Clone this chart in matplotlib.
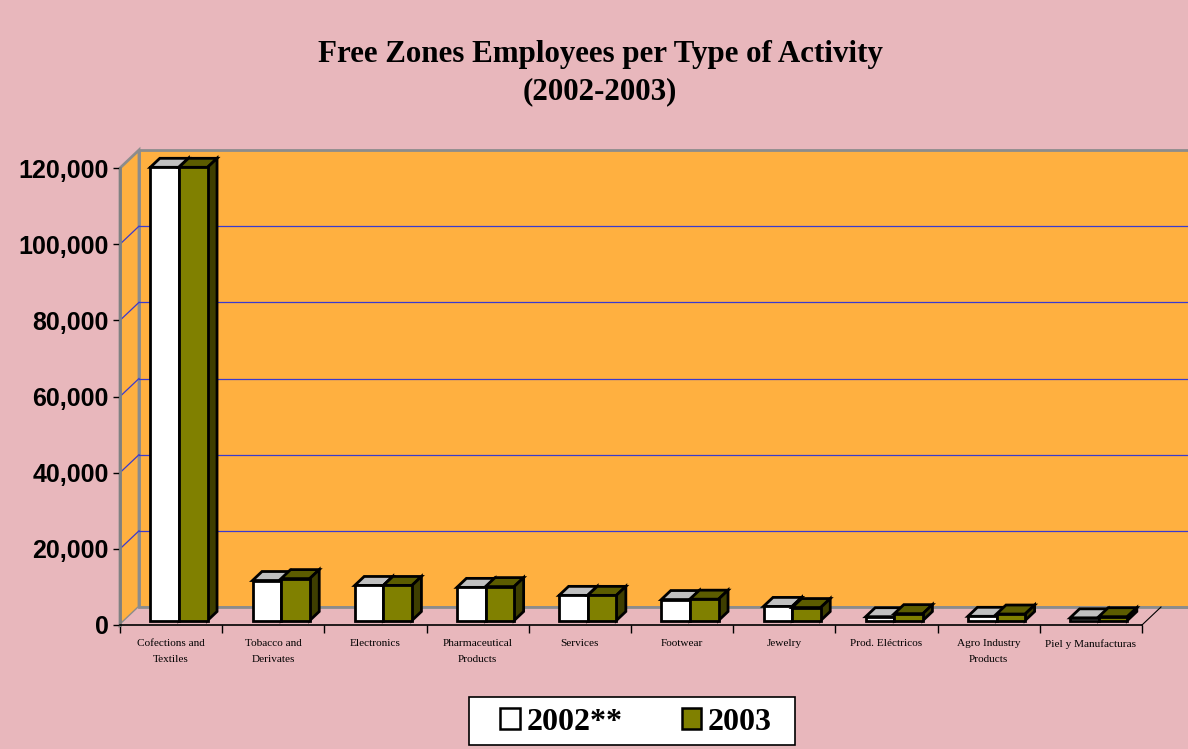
import numpy as np
import matplotlib
matplotlib.use('Agg')
import matplotlib.pyplot as plt
from matplotlib.patches import Polygon, Patch, Rectangle

# data
categories = ['Cofections and\nTextiles', 'Tobacco and\nDerivates', 'Electronics',
              'Pharmaceutical\nProducts', 'Services', 'Footwear', 'Jewelry',
              'Prod. Eléctricos', 'Agro Industry\nProducts', 'Piel y Manufacturas']
emp_2002 = [119000, 10500, 9200, 8700, 6600, 5500, 3700, 1000, 1100, 700]
emp_2003 = [119000, 11000, 9200, 8900, 6600, 5600, 3400, 1800, 1700, 1000]
series_names = ['2002**', '2003']
yticks = [0, 20000, 40000, 60000, 80000, 100000, 120000]

# colours
bg = '#E8B7BC'
wall = '#FFB040'
grid_c = '#3A3ACF'
white_cols = ('#FFFFFF', '#C0C0C0', '#808080')   # front, top, side
green_cols = ('#808000', '#5C5C00', '#3E3E00')

fig = plt.figure(figsize=(11.88, 7.49), dpi=100)
fig.patch.set_facecolor(bg)

W, H = 1188, 749
ax = fig.add_axes([120 / W, 1 - 625 / H, (1142 - 120) / W, (625 - 168) / H])
ax.set_xlim(-0.5, 9.5)
ax.set_ylim(0, 120000)
ax.patch.set_visible(False)

# depth of the 3d box in data units (about 18 px right / 18 px up)
px_x = (1142 - 120) / 10.0
px_y = (625 - 168) / 120000.0
DX = 19 / px_x
DY = 18 / px_y
x0, x1 = -0.5, 9.5
xr = 10.2  # back wall runs off the right edge

# back wall + left wall
ax.add_patch(Polygon([(x0 + DX, DY), (xr, DY), (xr, 120000 + DY), (x0 + DX, 120000 + DY)],
                     closed=True, facecolor=wall, edgecolor='#8C8C8C', lw=2, clip_on=False, zorder=0))
ax.add_patch(Polygon([(x0, 0), (x0 + DX, DY), (x0 + DX, 120000 + DY), (x0, 120000)],
                     closed=True, facecolor=wall, edgecolor='#8C8C8C', lw=2, clip_on=False, zorder=0))
# floor
ax.add_patch(Polygon([(x0, 0), (x1, 0), (x1 + DX, DY), (x0 + DX, DY)],
                     closed=True, facecolor=bg, edgecolor='none', clip_on=False, zorder=0.5))
ax.plot([x0 + DX, xr], [DY, DY], color='#8C8C8C', lw=2, clip_on=False, zorder=0.6)
ax.plot([x1, x1 + DX], [0, DY], color='black', lw=0.8, clip_on=False, zorder=0.6)

# gridlines on walls
for v in yticks[1:-1]:
    ax.plot([x0 + DX, xr], [v + DY, v + DY], color=grid_c, lw=0.9, clip_on=False, zorder=0.7)
    ax.plot([x0, x0 + DX], [v, v + DY], color=grid_c, lw=0.9, clip_on=False, zorder=0.7)

# 3d bars
f0, f1 = 0.25, 0.75
bw = 0.28
xs = np.arange(len(categories))


def bar3d(centers, vals, cols, z):
    bars = ax.bar(centers + f0 * DX, vals, width=bw, bottom=f0 * DY, color=cols[0],
                  edgecolor='black', lw=2, clip_on=False, zorder=z + 0.2)
    ddx = (f1 - f0) * DX
    ddy = (f1 - f0) * DY
    for b in bars:
        l = b.get_x()
        r = l + b.get_width()
        t = b.get_y() + b.get_height()
        bt = b.get_y()
        ax.add_patch(Polygon([(l, t), (r, t), (r + ddx, t + ddy), (l + ddx, t + ddy)],
                             closed=True, facecolor=cols[1], edgecolor='black', lw=2,
                             clip_on=False, zorder=z))
        ax.add_patch(Polygon([(r, bt), (r + ddx, bt + ddy), (r + ddx, t + ddy), (r, t)],
                             closed=True, facecolor=cols[2], edgecolor='black', lw=2,
                             clip_on=False, zorder=z))
    return bars


bar3d(xs - 0.11, emp_2002, white_cols, 2)
bar3d(xs + 0.17, emp_2003, green_cols, 3)

# axes styling
for s in ['top', 'right']:
    ax.spines[s].set_visible(False)
ax.spines['left'].set_color('#808080')
ax.spines['left'].set_linewidth(2)
ax.spines['bottom'].set_color('black')
ax.spines['bottom'].set_linewidth(1.2)
ax.spines['bottom'].set_zorder(5)

ax.set_yticks(yticks)
ax.set_yticklabels([f'{v:,}' for v in yticks], fontsize=18, fontweight='bold',
                   family='Liberation Sans')
ax.tick_params(axis='y', length=5, width=1, color='black', pad=3)

ax.set_xticks(np.arange(-0.5, 10, 1))
ax.set_xticklabels([])
ax.set_xticks(xs, minor=True)
ax.set_xticklabels(categories, minor=True, fontsize=8.1, family='Liberation Serif',
                   linespacing=2.0)
ax.tick_params(axis='x', which='major', length=6, width=1, color='black', direction='out')
ax.tick_params(axis='x', which='minor', length=0, pad=10)

# title
fig.text(600 / W, 1 - 73 / H, 'Free Zones Employees per Type of Activity\n(2002-2003)',
         ha='center', va='center', fontsize=22.3, fontweight='bold',
         family='Liberation Serif', linespacing=1.38)

# legend: white box drawn separately, entries placed inside
fig.add_artist(Rectangle((469 / W, 1 - 745 / H), (795 - 469) / W, (745 - 697) / H,
                         transform=fig.transFigure, facecolor='white', edgecolor='black',
                         lw=1.2, zorder=3))
handles = [Patch(facecolor=white_cols[0], edgecolor='black', lw=1.8, label=series_names[0]),
           Patch(facecolor=green_cols[0], edgecolor='black', lw=1.8, label=series_names[1])]
leg = fig.legend(handles=handles, loc='center', bbox_to_anchor=(636 / W, 1 - 722 / H),
                 ncol=2, frameon=False,
                 prop={'family': 'Liberation Serif', 'weight': 'bold', 'size': 23},
                 handlelength=0.62, handleheight=0.62, handletextpad=0.2,
                 columnspacing=1.85, borderpad=0.2)
leg.set_zorder(4)

fig.savefig('out.png', dpi=100, facecolor=fig.get_facecolor())
